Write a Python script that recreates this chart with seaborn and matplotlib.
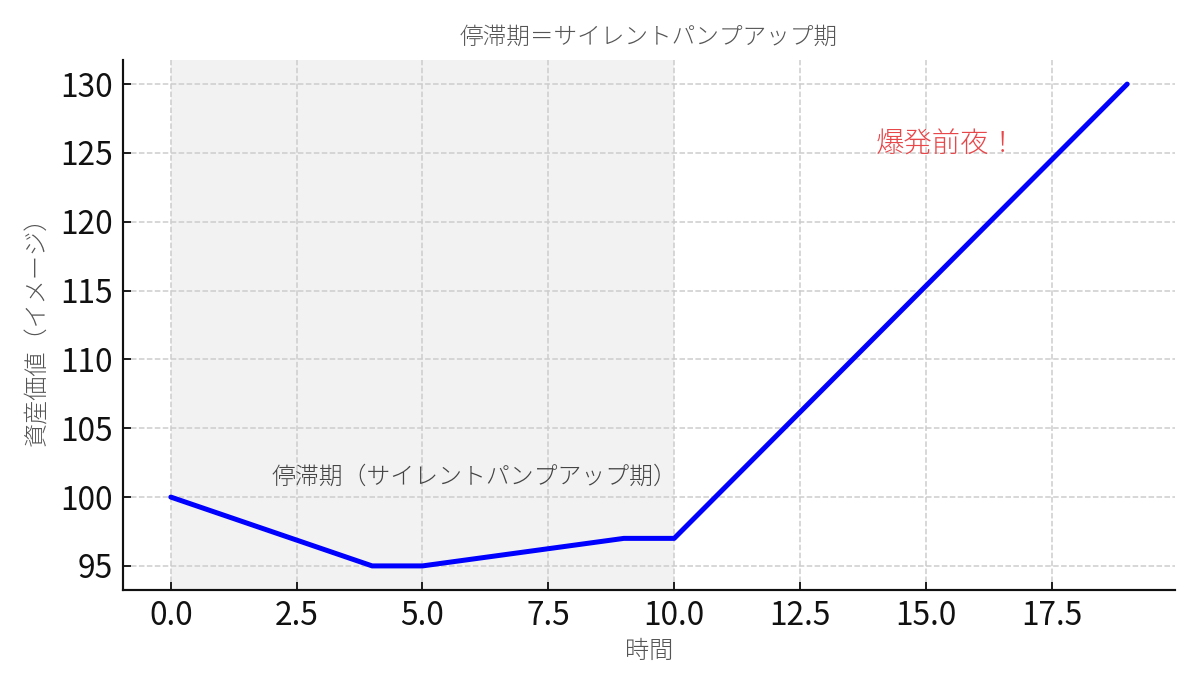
import matplotlib
matplotlib.use("Agg")
import matplotlib.pyplot as plt
import seaborn as sns
import pandas as pd

# data (vertices of the line)
time = [0, 4, 5, 9, 10, 19]
value = [100, 95, 95, 97, 97, 130]
x_ticks = [0.0, 2.5, 5.0, 7.5, 10.0, 12.5, 15.0, 17.5]
y_ticks = [95, 100, 105, 110, 115, 120, 125, 130]
stagnation = (0, 10)

title = "停滞期＝サイレントパンプアップ期"
xlabel = "時間"
ylabel = "資産価値（イメージ）"
note_stag = "停滞期（サイレントパンプアップ期）"
note_boom = "爆発前夜！"

sns.set_theme(style="white")
plt.rcParams["font.family"] = ["Noto Sans CJK JP", "DejaVu Sans"]

df = pd.DataFrame({"time": time, "value": value})

fig = plt.figure(figsize=(10, 686 / 120), dpi=120)
ax = fig.add_axes([123 / 1200, 96 / 686, (1175 - 123) / 1200, (590 - 60) / 686])

ax.axvspan(stagnation[0], stagnation[1], color="gray", alpha=0.1, lw=0, zorder=0)
sns.lineplot(data=df, x="time", y="value", ax=ax, color="blue", linewidth=3.0, zorder=3)

ax.set_xticks(x_ticks)
ax.set_yticks(y_ticks)
ax.set_xticklabels([f"{t:.1f}" for t in x_ticks])
ax.set_yticklabels([str(t) for t in y_ticks])
ax.grid(True, linestyle="--", color="#cccccc", linewidth=0.9)
ax.set_axisbelow(True)

for s in ["top", "right"]:
    ax.spines[s].set_visible(False)
for s in ["left", "bottom"]:
    ax.spines[s].set_color("#111111")
    ax.spines[s].set_linewidth(1.3)

ax.tick_params(axis="both", direction="in", length=5, width=1.1, colors="#111111",
               labelsize=19, left=True, bottom=True, pad=6)

ax.set_title(title, fontsize=14.2, color="#555555", pad=10, fontweight="light")
ax.set_xlabel(xlabel, fontsize=14.5, color="#555555", labelpad=4, fontweight="light")
ax.set_ylabel(ylabel, fontsize=14.5, color="#555555", labelpad=6, fontweight="light")

ax.text(2, 101, note_stag, fontsize=14.3, color="#444444", fontweight="light")
ax.text(14, 125, note_boom, fontsize=17, color="#e8474a", fontweight="light")

fig.savefig("out.png", dpi=120)
